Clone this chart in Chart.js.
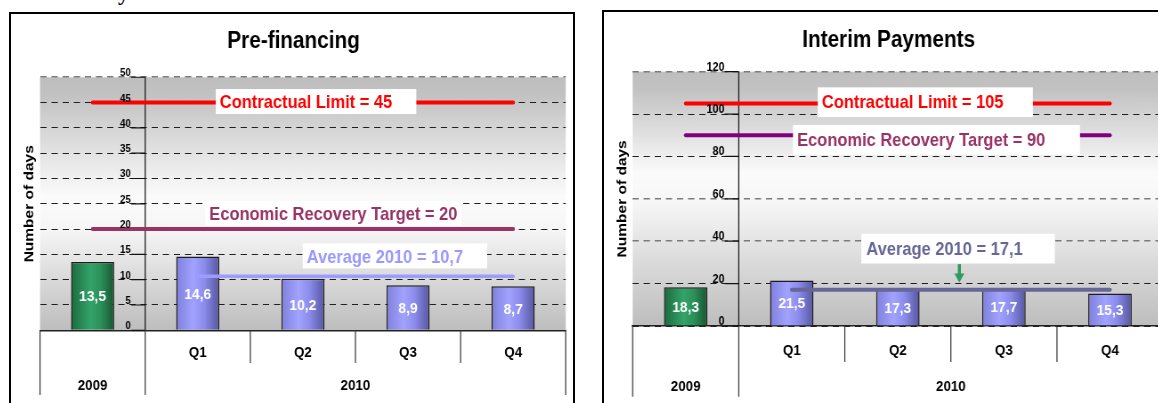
<!DOCTYPE html>
<html>
<head>
<meta charset="utf-8">
<script src="https://cdn.jsdelivr.net/npm/chart.js@4.4.1/dist/chart.umd.min.js"></script>
<style>
  html, body { margin: 0; padding: 0; background: #fff; }
  body { width: 1158px; height: 403px; overflow: hidden; position: relative; }
  .frame { position: absolute; border: 2px solid #000; overflow: hidden; background: #fff; }
  .squeeze { transform: scaleX(0.89); transform-origin: 0 0; }
  canvas { display: block; }
  .cut { position: absolute; left: 118px; top: -18px; font: bold 22px/22px 'Liberation Serif', serif; }
</style>
</head>
<body>
<div class="cut">y</div>
<div class="frame" style="left:9px;top:12px;width:562px;height:400px">
  <div class="squeeze"><canvas id="preChart" width="632" height="392"></canvas></div>
</div>
<div class="frame" style="left:602px;top:10px;width:600px;height:400px">
  <div class="squeeze"><canvas id="intChart" width="640" height="394"></canvas></div>
</div>
<script>
// values
const categories = ['2009', 'Q1', 'Q2', 'Q3', 'Q4'];
const yearGroups = ['2009', '2010'];
const yearSpans = [[0, 0], [1, 4]]; // first / last category of each year

const preFinancingDays = [13.5, 14.6, 10.2, 8.9, 8.7];
const preContractualLimit = 45;
const preRecoveryTarget = 20;
const preAverage2010 = 10.7;
const preTicks = [0, 5, 10, 15, 20, 25, 30, 35, 40, 45, 50];

const interimDays = [18.3, 21.5, 17.3, 17.7, 15.3];
const intContractualLimit = 105;
const intRecoveryTarget = 90;
const intAverage2010 = 17.1;
const intTicks = [0, 20, 40, 60, 80, 100, 120];

const FONT = "'Liberation Sans', Arial, sans-serif";
Chart.defaults.font.family = FONT;
Chart.defaults.color = '#000';

const BAR_PCT = 0.41;
const greenStops = [[0, '#1c6a3f'], [0.45, '#33a46a'], [0.7, '#2b8f5a'], [1, '#17532f']];
const blueStops = [[0, '#7f7fdc'], [0.4, '#a2a2ff'], [0.65, '#8c8cec'], [1, '#56569f']];

const fmt = v => String(v).replace('.', ',');

function barFill(c) {
  const chart = c.chart, xs = chart.scales.x;
  const stops = c.dataIndex === 0 ? greenStops : blueStops;
  if (c.type !== 'data' || !chart.chartArea || !xs) return stops[1][1];
  const cx = xs.getPixelForValue(c.dataIndex);
  const half = xs.width / categories.length * BAR_PCT / 2;
  const g = chart.ctx.createLinearGradient(cx - half, 0, cx + half, 0);
  stops.forEach(s => g.addColorStop(s[0], s[1]));
  return g;
}

function text(ctx, str, x, y, font, color, align) {
  ctx.font = font;
  ctx.fillStyle = color;
  ctx.textAlign = align || 'center';
  ctx.textBaseline = 'alphabetic';
  ctx.fillText(str, x, y);
}

function panelDecor(o) {
  return {
    id: 'panelDecor',
    beforeDraw(chart) {
      const {ctx, chartArea: a} = chart;
      const g = ctx.createLinearGradient(0, a.top, 0, a.bottom);
      g.addColorStop(0, '#bebebe');
      g.addColorStop(0.07, '#c2c2c2');
      g.addColorStop(o.whiteFrom, '#fbfbfb');
      g.addColorStop(o.whiteTo, '#f6f6f6');
      g.addColorStop(1, '#bdbdbd');
      ctx.save();
      ctx.fillStyle = g;
      ctx.fillRect(a.left, a.top, a.right - a.left, a.bottom - a.top);
      ctx.restore();
    },
    beforeDatasetsDraw(chart) {
      const {ctx, chartArea: a, scales: {x, y}} = chart;
      const ax = x.getPixelForValue(0.5);
      ctx.save();
      ctx.strokeStyle = '#111';
      ctx.lineWidth = 1.2;
      ctx.beginPath();
      ctx.moveTo(ax, a.top);
      ctx.lineTo(ax, a.bottom);
      y.ticks.forEach(t => {
        const py = y.getPixelForValue(t.value);
        ctx.moveTo(ax - 15.7, py);
        ctx.lineTo(ax, py);
      });
      ctx.stroke();
      ctx.restore();
    },
    afterDatasetsDraw(chart) {
      const {ctx, chartArea: a, scales: {x, y}} = chart;
      const ax = x.getPixelForValue(0.5);
      ctx.save();

      // y tick labels sit on top of their tick marks
      y.ticks.forEach(t => {
        text(ctx, String(t.value), ax - 16, y.getPixelForValue(t.value) - 1,
          'bold ' + o.tickSize + 'px ' + FONT, '#000', 'right');
      });

      // values inside the bars
      const bars = chart.getDatasetMeta(3).data;
      bars.forEach((b, i) => {
        const mid = (b.y + b.base) / 2;
        text(ctx, fmt(o.values[i]), b.x, mid + 5.5, 'bold 15.5px ' + FONT, '#fff');
      });

      // boxed notes
      const nf = 'bold 18.5px ' + FONT;
      o.notes.forEach(n => {
        ctx.font = nf;
        const w = ctx.measureText(n.text).width;
        const cx = x.getPixelForValue(n.at[0]);
        const cy = y.getPixelForValue(n.at[1]);
        ctx.fillStyle = '#fff';
        ctx.fillRect(cx - w / 2 - n.pad[0], cy - o.boxUp, w + n.pad[0] + n.pad[1], o.boxUp + o.boxDown);
        text(ctx, n.text, cx, cy + 6.6, nf, n.color);
      });

      // arrow pointing at the average line
      if (o.arrow) {
        const px = x.getPixelForValue(o.arrow.x);
        const top = y.getPixelForValue(o.arrow.from);
        const tip = y.getPixelForValue(o.arrow.to);
        ctx.fillStyle = '#2e9a62';
        ctx.fillRect(px - 1.7, top, 3.4, tip - top - 8);
        ctx.beginPath();
        ctx.moveTo(px - 5.6, tip - 9);
        ctx.lineTo(px + 5.6, tip - 9);
        ctx.lineTo(px, tip);
        ctx.closePath();
        ctx.fill();
      }

      // category separators and year row
      ctx.strokeStyle = '#333';
      ctx.lineWidth = 1.2;
      ctx.beginPath();
      const longs = new Set();
      yearSpans.forEach(s => { longs.add(s[0] - 0.5); longs.add(s[1] + 0.5); });
      for (let i = 0; i <= categories.length; i++) {
        const v = i - 0.5;
        const px = x.getPixelForValue(v);
        ctx.moveTo(px, a.bottom);
        ctx.lineTo(px, longs.has(v) ? o.longSep : o.shortSep);
      }
      ctx.stroke();
      yearGroups.forEach((g, i) => {
        const s = yearSpans[i];
        const cx = (x.getPixelForValue(s[0]) + x.getPixelForValue(s[1])) / 2;
        text(ctx, g, cx, o.yearY + 5.4, 'bold 15px ' + FONT, '#000');
      });
      ctx.restore();
    }
  };
}

function buildChart(id, o) {
  const line = (data, color, width) => ({
    type: 'line', data, borderColor: color, borderWidth: width,
    pointRadius: 0, borderCapStyle: 'round', fill: false, order: 1
  });
  const firstQuarter = yearSpans[1][0];
  return new Chart(document.getElementById(id), {
    type: 'bar',
    data: {
      labels: categories,
      datasets: [
        line(categories.map(() => o.limit), '#ff0000', 4),
        line(categories.map(() => o.target), o.targetLine, 4),
        line(categories.map((c, i) => i >= firstQuarter ? o.average : null), o.avgLine, o.avgWidth),
        {
          data: o.values, backgroundColor: barFill, borderColor: '#1c1c1c', borderWidth: 1.5,
          barPercentage: BAR_PCT, categoryPercentage: 1, order: 2
        }
      ]
    },
    options: {
      responsive: false,
      animation: false,
      events: [],
      layout: { padding: o.pad },
      plugins: {
        legend: { display: false },
        tooltip: { enabled: false },
        title: {
          display: true, text: o.title, color: '#000',
          font: { size: 23.3, weight: 'bold', lineHeight: 1.2 },
          padding: { top: o.titleTop, bottom: o.titleBottom }
        }
      },
      scales: {
        x: {
          type: 'category', offset: true,
          grid: { drawOnChartArea: false, drawTicks: false },
          border: { display: true, color: '#222', width: 1.5 },
          ticks: {
            color: '#000', font: { size: 15, weight: 'bold', lineHeight: 1.2 },
            padding: o.xPad, maxRotation: 0, autoSkip: false,
            callback: (v, i) => i < firstQuarter ? '' : categories[i]
          }
        },
        y: {
          min: o.ticks[0], max: o.ticks[o.ticks.length - 1],
          afterBuildTicks: s => { s.ticks = o.ticks.map(v => ({ value: v })); },
          ticks: { display: false },
          grid: {
            drawTicks: false,
            color: c => o.soft.includes(c.tick && c.tick.value) ? '#7a7a7a' : '#1e1e1e',
            lineWidth: c => o.soft.includes(c.tick && c.tick.value) ? 1.6 : 1
          },
          border: { display: false, dash: [7, 5.5] },
          title: {
            display: true, text: 'Number of days', color: '#000',
            font: { size: 15.5, weight: 'bold', lineHeight: 1.2 },
            padding: { top: 0, bottom: o.yTitleGap }
          }
        }
      }
    },
    plugins: [panelDecor(o)]
  });
}

buildChart('preChart', {
  title: 'Pre-financing',
  values: preFinancingDays,
  limit: preContractualLimit, target: preRecoveryTarget, average: preAverage2010,
  ticks: preTicks, soft: [50],
  targetLine: '#993366', avgLine: '#9c9cff', avgWidth: 3.5,
  pad: { left: 11.7, right: 8.7, top: 0, bottom: 30.3 },
  titleTop: 13.7, titleBottom: 21.6, xPad: 13.7, yTitleGap: 2.3,
  tickSize: 11, boxUp: 12.5, boxDown: 12.5,
  whiteFrom: 0.47, whiteTo: 0.6,
  shortSep: 349, longSep: 381, yearY: 371,
  notes: [
    { text: 'Contractual Limit = ' + fmt(preContractualLimit), color: '#ff0000', at: [2.03, 45.2], pad: [4.5, 27] },
    { text: 'Economic Recovery Target = ' + fmt(preRecoveryTarget), color: '#993366', at: [2.29, 23.1], pad: [4.5, 4.5] },
    { text: 'Average 2010 = ' + fmt(preAverage2010), color: '#9999ff', at: [2.78, 14.7], pad: [4.5, 27] }
  ]
});

buildChart('intChart', {
  title: 'Interim Payments',
  values: interimDays,
  limit: intContractualLimit, target: intRecoveryTarget, average: intAverage2010,
  ticks: intTicks, soft: [120, 60, 40],
  targetLine: '#800080', avgLine: '#666699', avgWidth: 4,
  pad: { left: 11.5, right: 11.9, top: 0, bottom: 30.4 },
  titleTop: 14.8, titleBottom: 16.9, xPad: 15.8, yTitleGap: 2.1,
  tickSize: 12, boxUp: 14.2, boxDown: 15.5,
  whiteFrom: 0.4, whiteTo: 0.52,
  shortSep: 350, longSep: 384.7, yearY: 374,
  notes: [
    { text: 'Contractual Limit = ' + fmt(intContractualLimit), color: '#ff0000', at: [2.14, 105.9], pad: [4.6, 33] },
    { text: 'Economic Recovery Target = ' + fmt(intRecoveryTarget), color: '#993366', at: [2.22, 88.1], pad: [4.6, 39] },
    { text: 'Average 2010 = ' + fmt(intAverage2010), color: '#666699', at: [2.44, 36.8], pad: [5.6, 36] }
  ],
  arrow: { x: 2.58, from: 29.2, to: 20.5 }
});
</script>
</body>
</html>
